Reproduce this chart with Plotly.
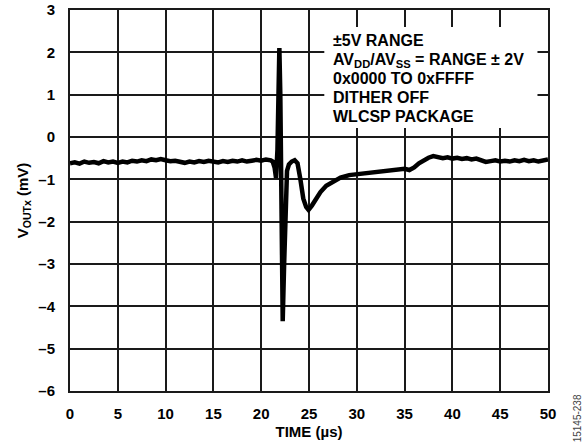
import plotly.graph_objects as go

# time (us) and output voltage (mV)
time_us = [
    0.0, 0.5, 1.0, 1.5, 2.0, 2.5, 3.0, 3.5, 4.0, 4.5, 5.0, 5.5, 6.0, 6.5, 7.0,
    7.5, 8.0, 8.5, 9.0, 9.5, 10.0, 10.5, 11.0, 11.5, 12.0, 12.5, 13.0, 13.5,
    14.0, 14.5, 15.0, 15.5, 16.0, 16.5, 17.0, 17.5, 18.0, 18.5, 19.0, 19.5,
    20.0, 20.5, 21.0,
    21.2, 21.4, 21.55, 21.7, 21.8, 21.9, 22.0, 22.1, 22.25, 22.4, 22.55, 22.7,
    22.9, 23.2, 23.5, 23.8, 24.1, 24.4, 24.7, 24.95, 25.3, 25.7, 26.2, 26.8,
    27.5, 28.3, 29.2, 30.0, 31.0, 32.0, 33.0, 34.0, 35.0, 35.5, 36.0, 36.5,
    37.0, 37.5, 38.0, 38.5, 39.0, 39.5, 40.0, 40.5, 41.0, 41.5, 42.0, 42.5,
    43.0, 43.5, 44.0, 44.5, 45.0, 45.5, 46.0, 46.5, 47.0, 47.5, 48.0, 48.5,
    49.0, 49.5, 50.0,
]
vout_mv = [
    -0.62, -0.60, -0.63, -0.58, -0.61, -0.59, -0.62, -0.57, -0.60, -0.58,
    -0.61, -0.58, -0.60, -0.56, -0.58, -0.55, -0.57, -0.53, -0.55, -0.52,
    -0.55, -0.57, -0.56, -0.59, -0.61, -0.58, -0.60, -0.57, -0.59, -0.56,
    -0.58, -0.60, -0.57, -0.59, -0.56, -0.58, -0.55, -0.58, -0.56, -0.54,
    -0.56, -0.53, -0.55,
    -0.58, -0.72, -0.97, -0.30, 1.00, 2.10, 1.00, -1.50, -4.35, -3.00, -1.50,
    -0.80, -0.65, -0.58, -0.55, -0.62, -1.00, -1.45, -1.65, -1.72, -1.62,
    -1.47, -1.30, -1.15, -1.05, -0.96, -0.90, -0.88, -0.84, -0.82, -0.79,
    -0.78, -0.75, -0.78, -0.72, -0.62, -0.55, -0.49, -0.45, -0.47, -0.50,
    -0.48, -0.51, -0.49, -0.52, -0.50, -0.53, -0.51, -0.56, -0.59, -0.57,
    -0.55, -0.58, -0.56, -0.58, -0.55, -0.57, -0.54, -0.57, -0.55, -0.58,
    -0.55, -0.53,
]

x_ticks = [0, 5, 10, 15, 20, 25, 30, 35, 40, 45, 50]
y_ticks = [3, 2, 1, 0, -1, -2, -3, -4, -5, -6]

note_lines = [
    "±5V RANGE",
    "AV<sub>DD</sub>/AV<sub>SS</sub> = RANGE ± 2V",
    "0x0000 TO 0xFFFF",
    "DITHER OFF",
    "WLCSP PACKAGE",
]

FONT = "Liberation Sans, Arial, sans-serif"
PLOT_H = 446 - 10 - 55  # plot area height in px


def bold(s):
    return "<b>" + s + "</b>"


def tick_label(v):
    return bold(str(v).replace("-", "\u2013"))


fig = go.Figure()
fig.add_trace(
    go.Scatter(
        x=time_us,
        y=vout_mv,
        mode="lines",
        line=dict(color="black", width=4.5),
        showlegend=False,
    )
)

# white box behind the conditions note
fig.add_shape(
    type="rect",
    x0=26.6, x1=48.9, y0=0.21, y1=2.6,
    fillcolor="white", line_width=0, layer="above",
)
# one annotation per line so the spacing can be tighter than plotly's 1.3em
for i, line in enumerate(note_lines):
    top_px = 20 + 19 * i
    fig.add_annotation(
        x=27.3, y=1 - top_px / PLOT_H, xref="x", yref="paper",
        text=bold(line),
        showarrow=False, align="left", xanchor="left", yanchor="top",
        font=dict(family=FONT, size=16, color="black"),
    )

fig.add_annotation(
    x=1.0, y=-0.14, xref="paper", yref="paper", xshift=29,
    text="15145-238", textangle=-90, showarrow=False,
    xanchor="center", yanchor="bottom",
    font=dict(family=FONT, size=10, color="#444"),
)

axis_common = dict(
    showgrid=True, gridcolor="#1a1a1a", gridwidth=1.5,
    showline=True, linecolor="#1a1a1a", linewidth=2, mirror=True,
    ticks="", zeroline=False,
    tickfont=dict(family=FONT, size=15, color="black"),
)

fig.update_xaxes(
    range=[0, 50], tickvals=x_ticks,
    ticktext=[tick_label(v) for v in x_ticks], ticklabelstandoff=8,
    title=dict(text=bold("TIME (µs)"), standoff=5,
               font=dict(family=FONT, size=15, color="black")),
    **axis_common,
)
fig.update_yaxes(
    range=[-6, 3], tickvals=y_ticks,
    ticktext=[tick_label(v) for v in y_ticks], ticklabelstandoff=10,
    title=dict(text=bold("V<sub>OUTx</sub> (mV)"), standoff=6,
               font=dict(family=FONT, size=15, color="black")),
    **axis_common,
)

fig.update_layout(
    width=584, height=446,
    margin=dict(l=70, r=36, t=10, b=55, autoexpand=False),
    plot_bgcolor="white", paper_bgcolor="white",
)

fig.write_html(
    "out.html",
    config={"displayModeBar": False},
    post_script="document.body.style.margin='0';",
)
